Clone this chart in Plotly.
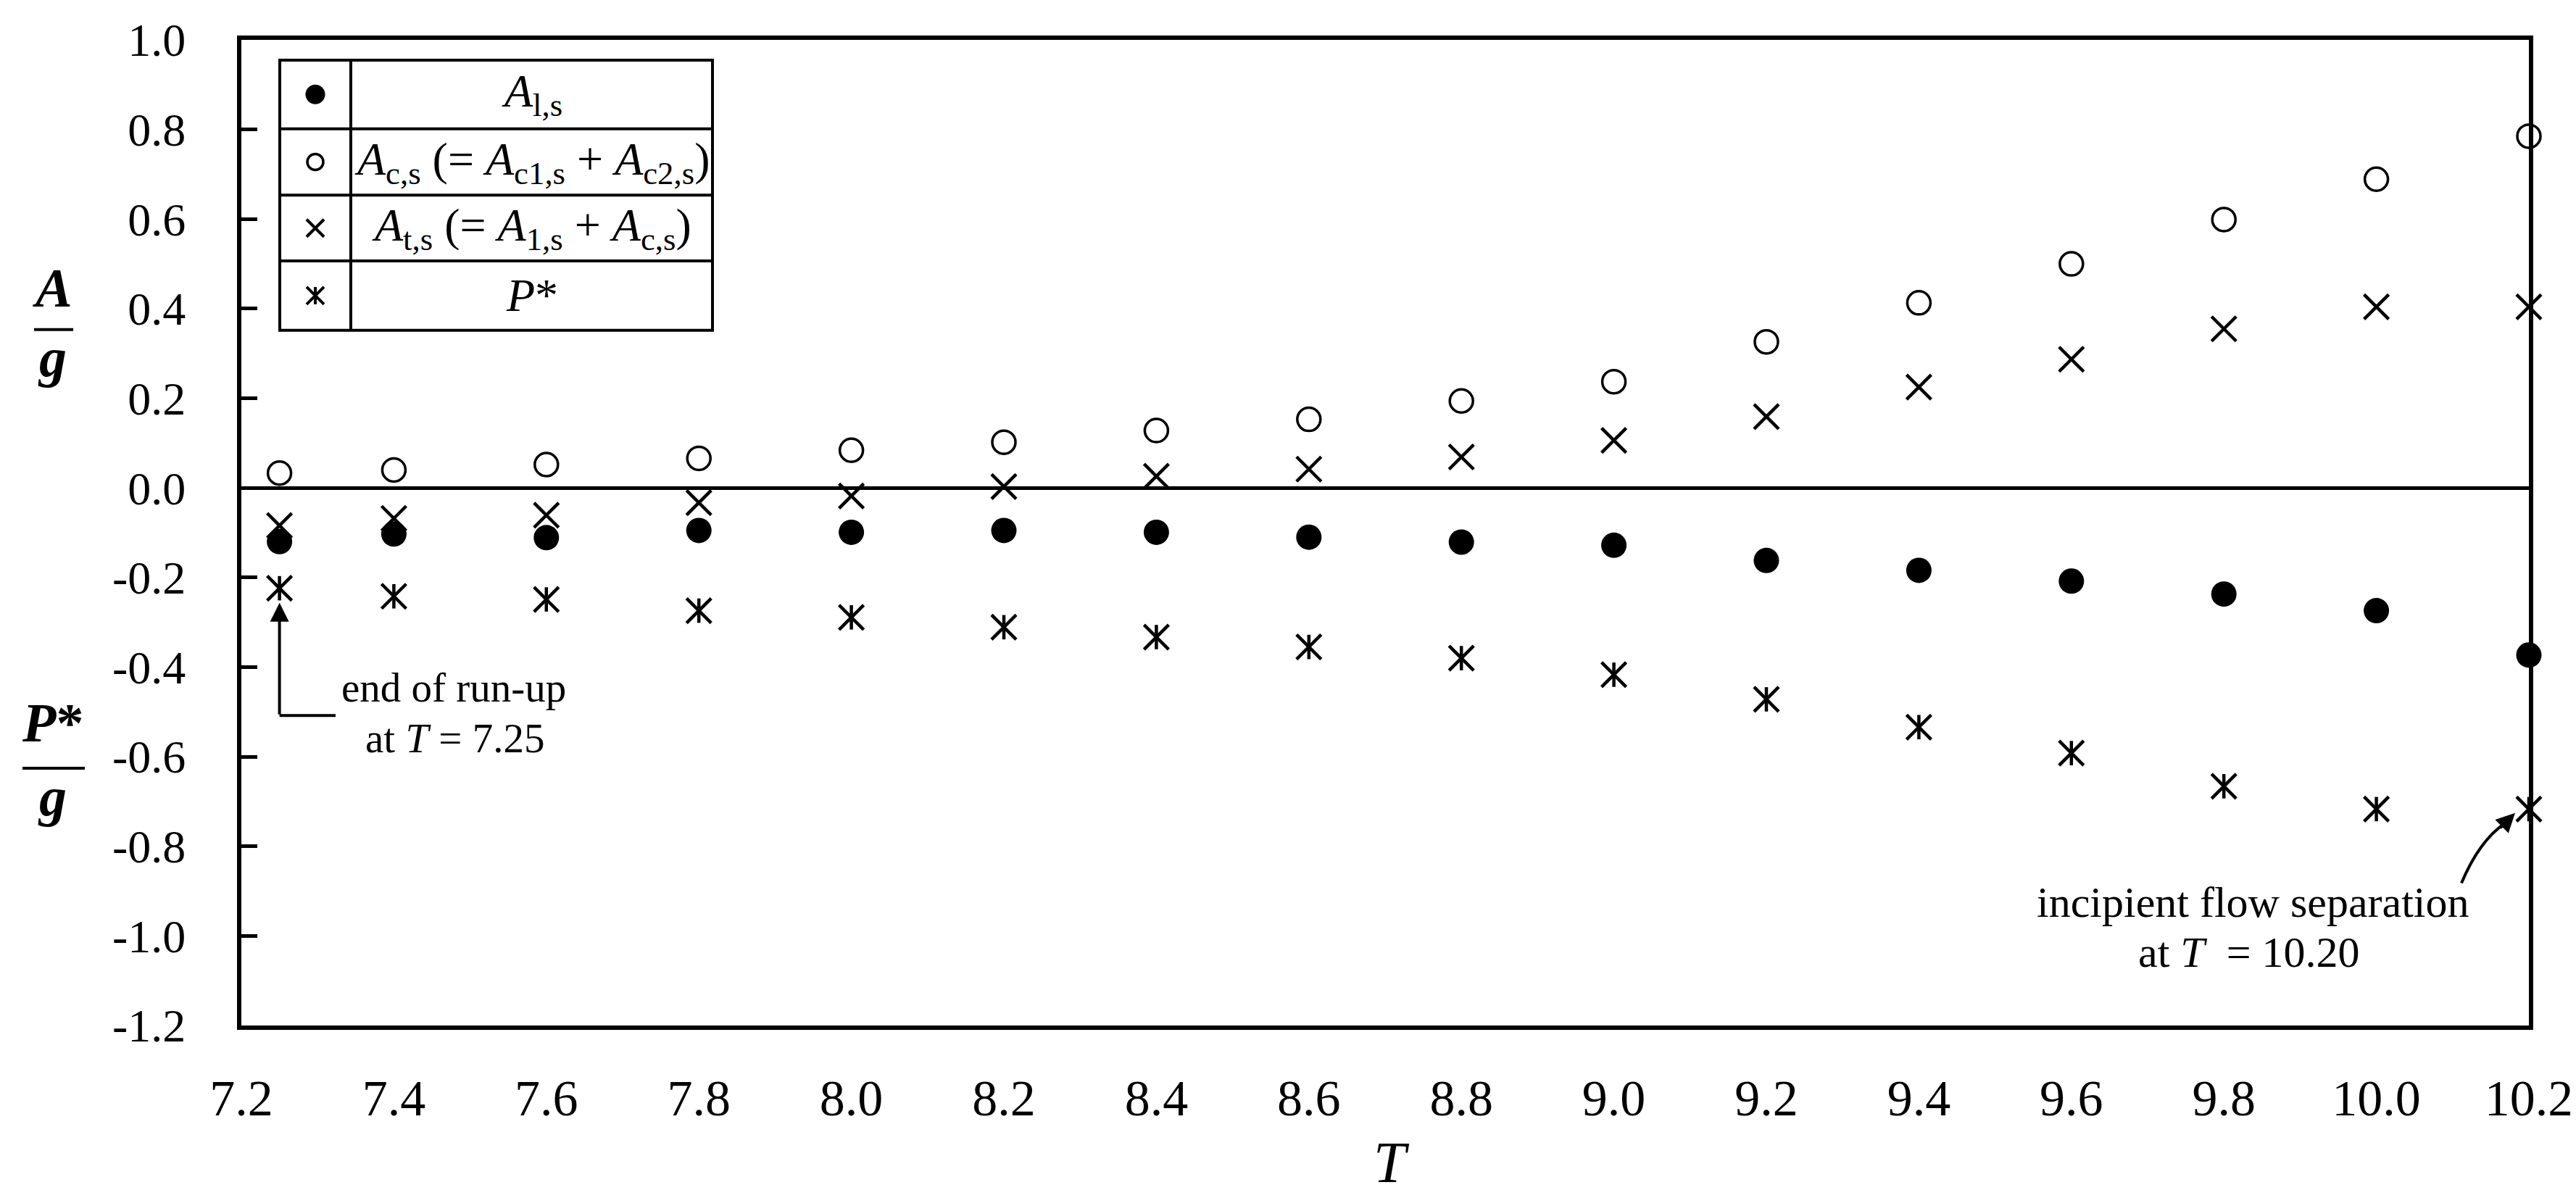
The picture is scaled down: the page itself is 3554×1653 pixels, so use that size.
import plotly.graph_objects as go

# ---------------- data ----------------
T_vals = [7.25, 7.4, 7.6, 7.8, 8.0, 8.2, 8.4, 8.6, 8.8, 9.0, 9.2, 9.4, 9.6, 9.8, 10.0, 10.2]
A_l = [-0.120, -0.103, -0.111, -0.095, -0.099, -0.095, -0.099, -0.110, -0.121, -0.128,
       -0.162, -0.184, -0.208, -0.237, -0.274, -0.373]
A_c = [0.033, 0.040, 0.052, 0.066, 0.084, 0.102, 0.128, 0.153, 0.194, 0.237,
       0.326, 0.413, 0.500, 0.599, 0.689, 0.785]
A_t = [-0.084, -0.068, -0.061, -0.033, -0.018, 0.003, 0.026, 0.042, 0.069, 0.106,
       0.159, 0.225, 0.287, 0.355, 0.404, 0.404]
P_star = [-0.224, -0.242, -0.249, -0.274, -0.289, -0.311, -0.333, -0.355, -0.380, -0.417,
          -0.472, -0.534, -0.592, -0.666, -0.717, -0.717]

x_tickvals = [7.2, 7.4, 7.6, 7.8, 8.0, 8.2, 8.4, 8.6, 8.8, 9.0, 9.2, 9.4, 9.6, 9.8, 10.0, 10.2]
x_ticktext = ["7.2", "7.4", "7.6", "7.8", "8.0", "8.2", "8.4", "8.6", "8.8", "9.0",
              "9.2", "9.4", "9.6", "9.8", "10.0", "10.2"]
y_tickvals = [1.0, 0.8, 0.6, 0.4, 0.2, 0.0, -0.2, -0.4, -0.6, -0.8, -1.0, -1.2]
y_ticktext = ["1.0", "0.8", "0.6", "0.4", "0.2", "0.0", "-0.2", "-0.4", "-0.6", "-0.8", "-1.0", "-1.2"]

legend_labels = [
    "<i>A</i><sub>l,s</sub>",
    "<i>A</i><sub>c,s</sub> (= <i>A</i><sub>c1,s</sub> + <i>A</i><sub>c2,s</sub>)",
    "<i>A</i><sub>t,s</sub> (= <i>A</i><sub>1,s</sub> + <i>A</i><sub>c,s</sub>)",
    "<i>P</i>*",
]

# ---------------- layout geometry (pixels) ----------------
W, H = 3554, 1653
L, R, TOP, BOT = 325, 3481, 43, 1407
XMIN, XMAX, YMIN, YMAX = 7.2, 10.2, -1.2, 1.0
FONT = "Liberation Serif"


def pxx(p):
    return (p - L) / (R - L)


def pxy(p):
    return (BOT - p) / (BOT - TOP)


def dx(p):
    return XMIN + (p - L) / (R - L) * (XMAX - XMIN)


def dy(p):
    return YMAX - (p - TOP) / (BOT - TOP) * (YMAX - YMIN)


fig = go.Figure()

# data traces
fig.add_trace(go.Scatter(x=T_vals, y=A_l, mode="markers", cliponaxis=False,
                         marker=dict(symbol="circle", size=35, color="black")))
fig.add_trace(go.Scatter(x=T_vals, y=A_c, mode="markers", cliponaxis=False,
                         marker=dict(symbol="circle-open", size=32, color="black",
                                     line=dict(width=3.5, color="black"))))
fig.add_trace(go.Scatter(x=T_vals, y=A_t, mode="markers", cliponaxis=False,
                         marker=dict(symbol="x-thin", size=34, color="black",
                                     line=dict(width=4.5, color="black"))))
fig.add_trace(go.Scatter(x=T_vals, y=P_star, mode="markers", cliponaxis=False,
                         marker=dict(symbol="x-thin", size=34, color="black",
                                     line=dict(width=4.5, color="black"))))
fig.add_trace(go.Scatter(x=T_vals, y=P_star, mode="markers", cliponaxis=False,
                         marker=dict(symbol="line-ns", size=24, color="black",
                                     line=dict(width=4.5, color="black"))))

# ---------------- legend table ----------------
LG_L, LG_R, LG_DIV = 378, 975, 476
LG_ROWS = [71, 166, 258, 349, 445]
row_centers = [(LG_ROWS[i] + LG_ROWS[i + 1]) / 2 for i in range(4)]
sym_x = pxx((LG_L + LG_DIV) / 2)
txt_x = pxx((LG_DIV + LG_R) / 2)

legend_symbols = [
    dict(symbol="circle", size=27, color="black"),
    dict(symbol="circle-open", size=22, color="black", line=dict(width=3.5, color="black")),
    dict(symbol="x-thin", size=24, color="black", line=dict(width=4, color="black")),
    dict(symbol="x-thin", size=24, color="black", line=dict(width=4, color="black")),
]
for i, m in enumerate(legend_symbols):
    fig.add_trace(go.Scatter(x=[sym_x], y=[pxy(row_centers[i])], mode="markers",
                             xaxis="x2", yaxis="y2", cliponaxis=False, marker=m))
fig.add_trace(go.Scatter(x=[sym_x], y=[pxy(row_centers[3])], mode="markers",
                         xaxis="x2", yaxis="y2", cliponaxis=False,
                         marker=dict(symbol="line-ns", size=17, color="black",
                                     line=dict(width=4, color="black"))))

shapes = []
lw = 4
shapes.append(dict(type="rect", xref="paper", yref="paper",
                   x0=pxx(LG_L), x1=pxx(LG_R), y0=pxy(LG_ROWS[0]), y1=pxy(LG_ROWS[-1]),
                   line=dict(color="black", width=lw), fillcolor="white", layer="below"))
shapes.append(dict(type="line", xref="paper", yref="paper",
                   x0=pxx(LG_DIV), x1=pxx(LG_DIV), y0=pxy(LG_ROWS[0]), y1=pxy(LG_ROWS[-1]),
                   line=dict(color="black", width=lw)))
for yy in LG_ROWS[1:-1]:
    shapes.append(dict(type="line", xref="paper", yref="paper",
                       x0=pxx(LG_L), x1=pxx(LG_R), y0=pxy(yy), y1=pxy(yy),
                       line=dict(color="black", width=lw)))

annotations = []
for i, lab in enumerate(legend_labels):
    annotations.append(dict(text=lab, xref="paper", yref="paper", x=txt_x, y=pxy(row_centers[i]),
                            xanchor="center", yanchor="middle", showarrow=False,
                            font=dict(family=FONT, size=64, color="black")))

# ---------------- y-axis fraction labels ----------------
for txt, cy in [("<b><i>A</i></b>", 386), ("<b><i>g</i></b>", 482),
                ("<b><i>P</i>*</b>", 988), ("<b><i>g</i></b>", 1090)]:
    annotations.append(dict(text=txt, xref="paper", yref="paper", x=pxx(64), y=pxy(cy),
                            xanchor="center", yanchor="middle", showarrow=False,
                            font=dict(family=FONT, size=76, color="black")))
for x0, x1, yy in [(39, 93, 444), (23, 109, 1051)]:
    shapes.append(dict(type="line", xref="paper", yref="paper",
                       x0=pxx(x0), x1=pxx(x1), y0=pxy(yy), y1=pxy(yy),
                       line=dict(color="black", width=4)))

# x-axis title
annotations.append(dict(text="<i>T</i>", xref="paper", yref="paper", x=pxx(1912), y=pxy(1597),
                        xanchor="center", yanchor="middle", showarrow=False,
                        font=dict(family=FONT, size=80, color="black")))

# ---------------- callouts ----------------
RUNUP_T = 7.25
runup_tip_y, runup_corner_y, runup_end_x = dy(822), dy(978), dx(455)
annotations.append(dict(x=RUNUP_T, y=runup_tip_y, ax=RUNUP_T, ay=runup_corner_y,
                        xref="x", yref="y", axref="x", ayref="y", text="",
                        showarrow=True, arrowhead=2, arrowsize=1.3, arrowwidth=4,
                        arrowcolor="black"))
shapes.append(dict(type="line", xref="x", yref="y", x0=RUNUP_T, x1=runup_end_x,
                   y0=runup_corner_y, y1=runup_corner_y, line=dict(color="black", width=4)))
annotations.append(dict(text="end of run-up", xref="paper", yref="paper",
                        x=pxx(618), y=pxy(939), xanchor="center", yanchor="middle",
                        showarrow=False, font=dict(family=FONT, size=57, color="black")))
annotations.append(dict(text="at <i>T</i> = 7.25", xref="paper", yref="paper",
                        x=pxx(620), y=pxy(1009), xanchor="center", yanchor="middle",
                        showarrow=False, font=dict(family=FONT, size=57, color="black")))

sep_tail = (dx(3388), dy(1210))
sep_ctrl = (dx(3412), dy(1152))
sep_end = (dx(3448), dy(1127))
sep_tip = (dx(3462), dy(1113))
shapes.append(dict(type="path", xref="x", yref="y",
                   path=f"M {sep_tail[0]},{sep_tail[1]} Q {sep_ctrl[0]},{sep_ctrl[1]} {sep_end[0]},{sep_end[1]}",
                   line=dict(color="black", width=4)))
annotations.append(dict(x=sep_tip[0], y=sep_tip[1], ax=-22, ay=22, xref="x", yref="y",
                        text="", showarrow=True, arrowhead=2, arrowsize=1.3, arrowwidth=4,
                        arrowcolor="black"))
annotations.append(dict(text="incipient flow separation", xref="paper", yref="paper",
                        x=pxx(3100), y=pxy(1236), xanchor="center", yanchor="middle",
                        showarrow=False, font=dict(family=FONT, size=60, color="black")))
annotations.append(dict(text="at <i>T</i>  = 10.20", xref="paper", yref="paper",
                        x=pxx(3095), y=pxy(1306), xanchor="center", yanchor="middle",
                        showarrow=False, font=dict(family=FONT, size=60, color="black")))

fig.update_layout(
    width=W, height=H,
    margin=dict(l=L, r=W - R, t=TOP, b=H - BOT, pad=0),
    paper_bgcolor="white", plot_bgcolor="white",
    showlegend=False,
    font=dict(family=FONT, color="black"),
    xaxis=dict(range=[XMIN, XMAX], tickvals=x_tickvals, ticktext=x_ticktext,
               showline=True, linewidth=6, linecolor="black", mirror=True,
               ticks="", showgrid=False, zeroline=False,
               tickfont=dict(family=FONT, size=70, color="black"), ticklabelstandoff=34),
    yaxis=dict(range=[YMIN, YMAX], tickvals=y_tickvals, ticktext=y_ticktext,
               showline=True, linewidth=6, linecolor="black", mirror=True,
               ticks="inside", ticklen=22, tickwidth=5, tickcolor="black",
               showgrid=False, zeroline=True, zerolinewidth=5, zerolinecolor="black",
               tickfont=dict(family=FONT, size=64, color="black"), ticklabelstandoff=58),
    xaxis2=dict(overlaying="x", range=[0, 1], visible=False),
    yaxis2=dict(overlaying="y", range=[0, 1], visible=False),
    shapes=shapes,
    annotations=annotations,
)

fig.write_html("out.html")
